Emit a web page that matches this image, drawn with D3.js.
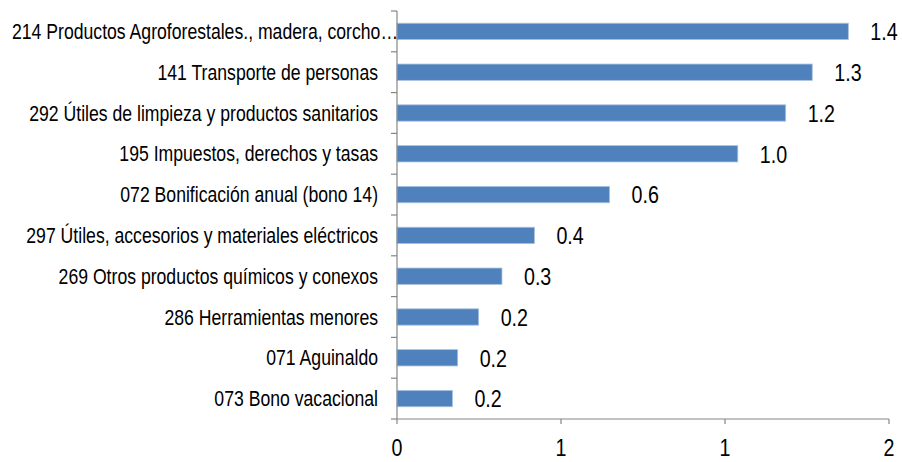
<!DOCTYPE html>
<html>
<head>
<meta charset="utf-8">
<script src="https://cdn.jsdelivr.net/npm/d3@7"></script>
<style>
  body { margin: 0; background: #fff; }
  text { font-family: "Liberation Sans Narrow", "Arial Narrow", "Liberation Sans", sans-serif; fill: #000; }
</style>
</head>
<body>
<svg width="902" height="462"></svg>
<script>
var categories = [
    "214 Productos Agroforestales., madera, corcho\u2026",
    "141 Transporte de personas",
    "292 \u00datiles de limpieza y productos sanitarios",
    "195 Impuestos, derechos y tasas",
    "072 Bonificaci\u00f3n anual (bono 14)",
    "297 \u00datiles, accesorios y materiales el\u00e9ctricos",
    "269 Otros productos qu\u00edmicos y conexos",
    "286 Herramientas menores",
    "071 Aguinaldo",
    "073 Bono vacacional"
];
var values = [1.376, 1.266, 1.185, 1.039, 0.648, 0.419, 0.320, 0.249, 0.185, 0.169];
var tickValues = [0, 0.5, 1, 1.5];
var tickLabels = ["0", "1", "1", "2"];

var svg = d3.select("svg");
var mLeft = 397, mRight = 889, mTop = 11, mBottom = 419;
var narrow = 0.82; // squeeze Liberation Sans to look like Arial Narrow

var x = d3.scaleLinear().domain([0, 1.5]).range([mLeft, mRight]);
var y = d3.scaleBand().domain(categories).range([mTop, mBottom]).paddingInner(0.6).paddingOuter(0.3);

var axisColor = "#868686";

function place(px, py) {
    return "translate(" + px + "," + py + ") scale(" + narrow + ",1)";
}

// bars
svg.selectAll("rect.bar")
    .data(values)
    .enter().append("rect")
    .attr("class", "bar")
    .attr("x", x(0))
    .attr("y", function (d, i) { return y(categories[i]); })
    .attr("width", function (d) { return x(d) - x(0); })
    .attr("height", y.bandwidth())
    .style("fill", "#4f81bd")
    .style("stroke", "#a9c1e0")
    .style("stroke-width", 0.8);

// value labels
svg.selectAll("text.val")
    .data(values)
    .enter().append("text")
    .attr("class", "val")
    .attr("transform", function (d, i) { return place(x(d) + 22, y(categories[i]) + y.bandwidth() / 2 + 0.5); })
    .attr("dominant-baseline", "central")
    .attr("font-size", 24)
    .text(function (d) { return d3.format(".1f")(d); });

// y axis line and ticks at band boundaries
var bounds = d3.range(categories.length + 1).map(function (i) { return mTop + i * (mBottom - mTop) / categories.length; });
svg.append("line")
    .attr("x1", mLeft).attr("x2", mLeft)
    .attr("y1", mTop).attr("y2", mBottom)
    .style("stroke", axisColor).style("stroke-width", 1.2);
svg.selectAll("line.ytick")
    .data(bounds)
    .enter().append("line")
    .attr("x1", mLeft - 6).attr("x2", mLeft)
    .attr("y1", function (d) { return d; }).attr("y2", function (d) { return d; })
    .style("stroke", axisColor).style("stroke-width", 1.2);

// category labels
svg.selectAll("text.cat")
    .data(categories)
    .enter().append("text")
    .attr("class", "cat")
    .attr("transform", function (d) { return place(mLeft - 19, y(d) + y.bandwidth() / 2); })
    .attr("dominant-baseline", "central")
    .attr("text-anchor", "end")
    .attr("font-size", 21.5)
    .text(function (d) { return d; })
    .each(function (d) {
        var w = this.getComputedTextLength() * narrow;
        if (mLeft - 19 - w < 12) {
            d3.select(this).attr("text-anchor", "start")
                .attr("transform", place(12, y(d) + y.bandwidth() / 2));
        }
    });

// x axis
svg.append("line")
    .attr("x1", mLeft).attr("x2", mRight)
    .attr("y1", mBottom).attr("y2", mBottom)
    .style("stroke", axisColor).style("stroke-width", 1.2);
svg.selectAll("line.xtick")
    .data(tickValues)
    .enter().append("line")
    .attr("x1", function (d) { return x(d); }).attr("x2", function (d) { return x(d); })
    .attr("y1", mBottom).attr("y2", mBottom + 5)
    .style("stroke", axisColor).style("stroke-width", 1.2);
svg.selectAll("text.xlab")
    .data(tickValues)
    .enter().append("text")
    .attr("class", "xlab")
    .attr("transform", function (d) { return place(x(d), mBottom + 37); })
    .attr("text-anchor", "middle")
    .attr("font-size", 24)
    .text(function (d, i) { return tickLabels[i]; });
</script>
</body>
</html>
